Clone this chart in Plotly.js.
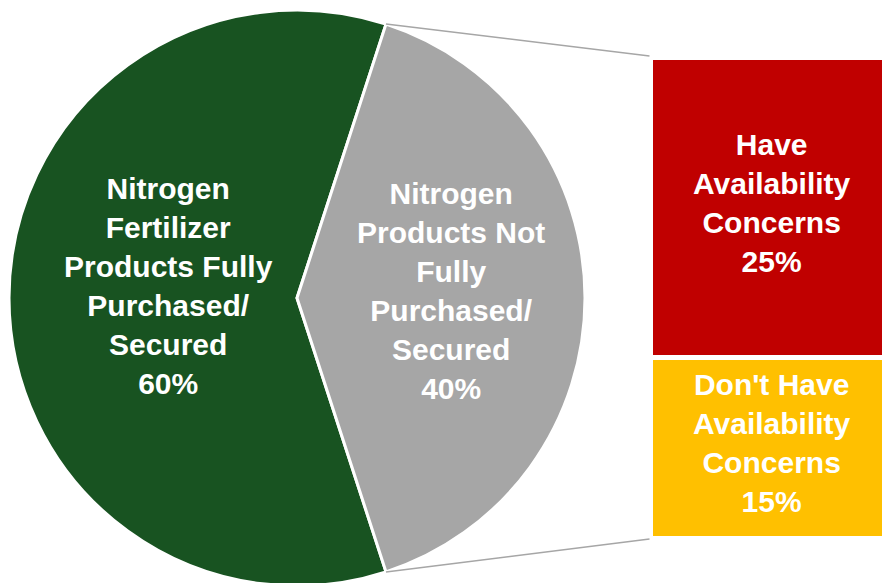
<!DOCTYPE html>
<html>
<head>
<meta charset="utf-8">
<script src="https://cdn.plot.ly/plotly-3.0.1.min.js"></script>
<style>
html,body{margin:0;padding:0;overflow:hidden;background:#fff;}
#chart{width:885px;height:596px;}
</style>
</head>
<body>
<div id="chart"></div>
<script>
// ---- data ----
const pieLabels = ["Nitrogen Fertilizer Products Fully Purchased/ Secured", "Nitrogen Products Not Fully Purchased/ Secured"];
const pieLines = [["Nitrogen", "Fertilizer", "Products Fully", "Purchased/", "Secured"], ["Nitrogen", "Products Not", "Fully", "Purchased/", "Secured"]];
const pieValues = [60, 40];
const pieColors = ["#185321", "#A6A6A6"];

const barLabels = ["Don't Have Availability Concerns", "Have Availability Concerns"];
const barLines = [["Don't Have", "Availability", "Concerns"], ["Have", "Availability", "Concerns"]];
const barValues = [15, 25];
const barColors = ["#FFC000", "#C00000"];

// ---- layout geometry ----
const W = 885, H = 596;
const cx = 297, cy = 298, r = 288;
const barLeft = 650.5, barTop = 57, barBottom = 538;
const rotation = 162;
const FONT = "Liberation Sans, Arial, sans-serif";

const pieTotal = pieValues.reduce((a, b) => a + b, 0);
const barTotal = barValues.reduce((a, b) => a + b, 0);

const traces = [];
traces.push({
  type: "pie",
  labels: pieLabels,
  values: pieValues,
  sort: false,
  direction: "clockwise",
  rotation: rotation,
  marker: {colors: pieColors, line: {color: "#FFFFFF", width: 3}},
  textinfo: "none",
  hoverinfo: "label+percent",
  showlegend: false,
  domain: {x: [(cx - r) / W, (cx + r) / W], y: [0, 1]}
});

for (let i = 0; i < barValues.length; i++) {
  traces.push({
    type: "bar",
    x: [0],
    y: [barValues[i]],
    name: barLabels[i],
    width: 1,
    marker: {color: barColors[i], line: {color: "#FFFFFF", width: 5}},
    textposition: "none",
    hoverinfo: "name+y",
    showlegend: false
  });
}

// connector lines from the secondary slice edges to the bar corners
const startAngle = rotation + 360 * pieValues[0] / pieTotal;
const endAngle = rotation + 360;
function piePt(deg) {
  const a = deg * Math.PI / 180;
  return [cx + r * Math.sin(a), cy - r * Math.cos(a)];
}
const pTop = piePt(startAngle);
const pBot = piePt(endAngle);
const px = v => v / W;
const py = v => (H - v) / H;

const shapes = [
  {type: "line", xref: "paper", yref: "paper", x0: px(pTop[0]), y0: py(pTop[1]), x1: px(barLeft - 1), y1: py(barTop - 1), line: {color: "#A6A6A6", width: 1.5}},
  {type: "line", xref: "paper", yref: "paper", x0: px(pBot[0]), y0: py(pBot[1]), x1: px(barLeft - 1), y1: py(barBottom + 1), line: {color: "#A6A6A6", width: 1.5}}
];

const labelFont = {family: FONT, size: 30, color: "#FFFFFF", weight: "bold"};
const labelPos = [[168, 285.5], [451, 290.5]];
const annotations = pieLabels.map((l, i) => ({
  xref: "paper", yref: "paper",
  x: px(labelPos[i][0]), y: py(labelPos[i][1]),
  xanchor: "center", yanchor: "middle",
  showarrow: false,
  text: pieLines[i].join("<br>") + "<br>" + Math.round(pieValues[i] / pieTotal * 100) + "%",
  font: labelFont,
  align: "center"
}));

// bar labels, anchored at each segment's middle in data units
let cum = 0;
for (let i = 0; i < barValues.length; i++) {
  annotations.push({
    xref: "x", yref: "y",
    x: 0, y: cum + barValues[i] / 2,
    xshift: 4, yshift: 4.5,
    xanchor: "center", yanchor: "middle",
    showarrow: false,
    text: barLines[i].join("<br>") + "<br>" + barValues[i] + "%",
    font: labelFont,
    align: "center"
  });
  cum += barValues[i];
}

const layout = {
  width: W, height: H,
  margin: {l: 0, r: 0, t: 0, b: 0, pad: 0},
  paper_bgcolor: "#FFFFFF",
  plot_bgcolor: "rgba(0,0,0,0)",
  barmode: "stack",
  showlegend: false,
  xaxis: {domain: [barLeft / W, 1], range: [-0.5, 0.5], visible: false, fixedrange: true},
  yaxis: {domain: [py(barBottom), py(barTop)], range: [0, barTotal], visible: false, fixedrange: true},
  shapes: shapes,
  annotations: annotations,
  font: {family: FONT}
};

Plotly.newPlot("chart", traces, layout, {displayModeBar: false, staticPlot: true});
</script>
</body>
</html>
